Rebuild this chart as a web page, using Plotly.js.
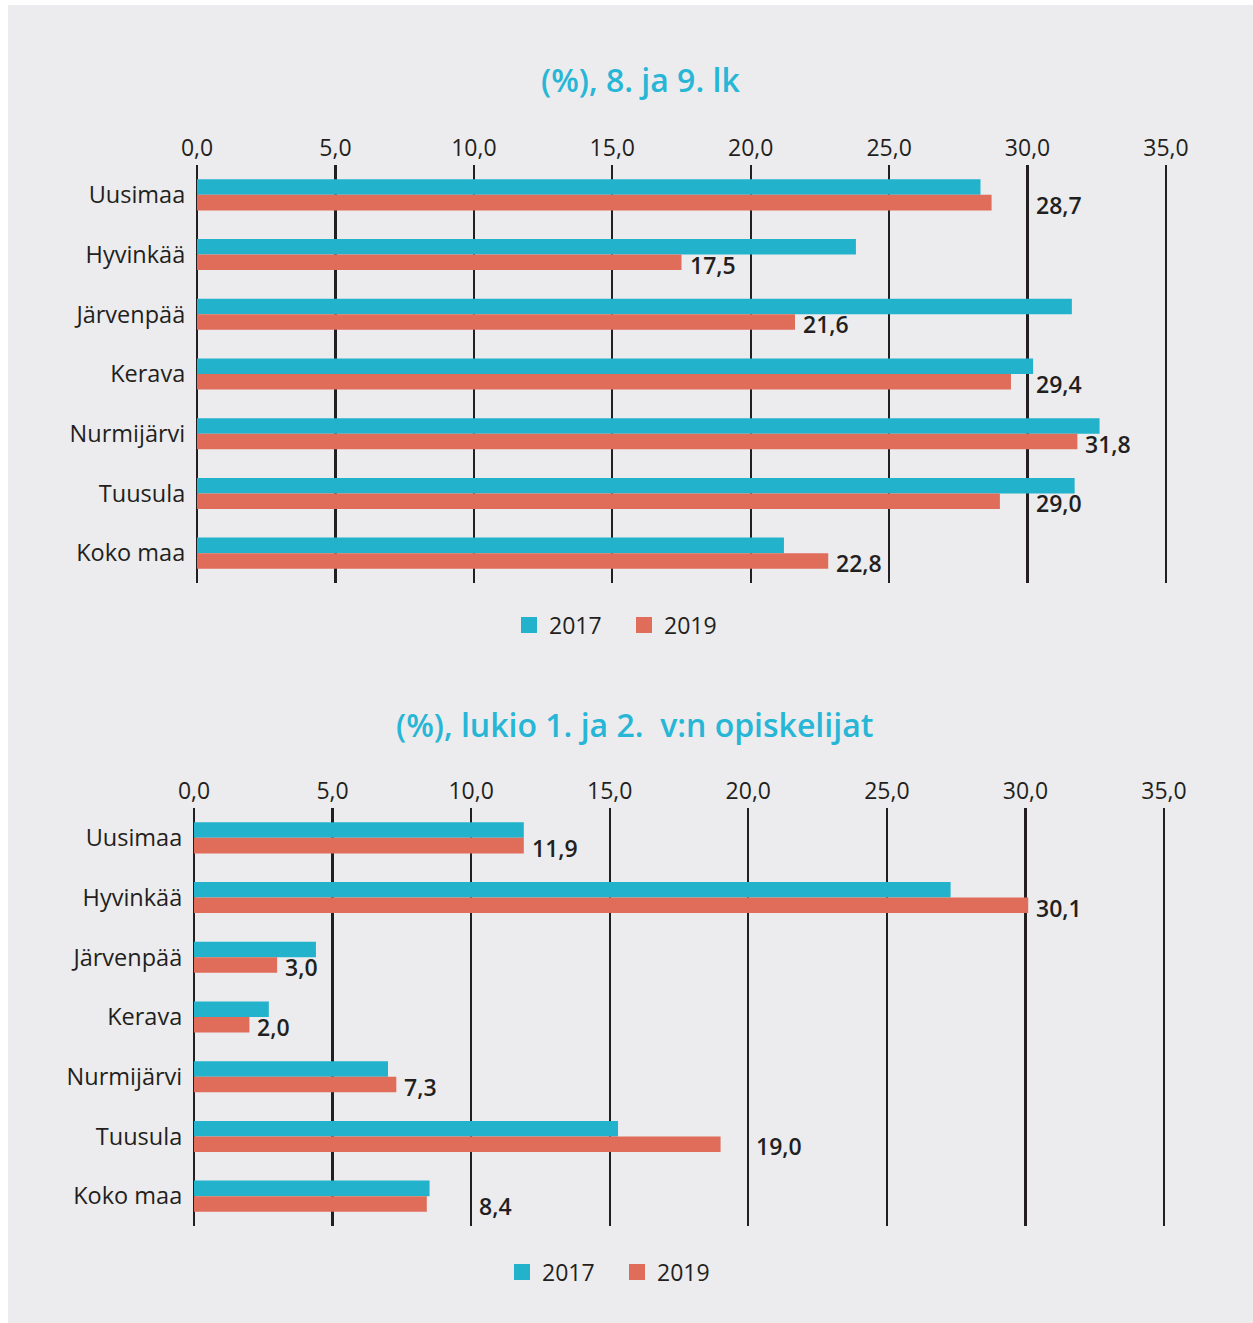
<!DOCTYPE html>
<html><head><meta charset="utf-8">
<script src="https://cdn.plot.ly/plotly-3.0.1.min.js"></script>
<style>html,body{margin:0;padding:0;background:#fff}</style>
</head><body><div id="chart" style="width:1253px;height:1323px"></div>
<script>
const categories = ['Uusimaa','Hyvinkää','Järvenpää','Kerava','Nurmijärvi','Tuusula','Koko maa'];
const seriesNames = ['2017','2019'];
const grade89_2017 = [28.3,23.8,31.6,30.2,32.6,31.7,21.2];
const grade89_2019 = [28.7,17.5,21.6,29.4,31.8,29.0,22.8];
const lukio_2017 = [11.9,27.3,4.4,2.7,7.0,15.3,8.5];
const lukio_2019 = [11.9,30.1,3.0,2.0,7.3,19.0,8.4];
const tickVals = [0,5,10,15,20,25,30,35];
const tickText = ['0,0','5,0','10,0','15,0','20,0','25,0','30,0','35,0'];
const chartTitles = ['(%), 8. ja 9. lk','(%), lukio 1. ja 2.\u00a0 v:n opiskelijat'];

const W = 1253, H = 1323;
const C1 = '#22b2cc', C2 = '#e06c5a', TXT = '#231f20', TITLE = '#27b6d6';
const FONT = '"Open Sans", "Noto Sans", sans-serif';
const fmt = v => v.toFixed(1).replace('.', ',');
const PX = 27.7; // px per unit
const pad = 0.1;

function labelStart(v) {
  for (const g of tickVals) if (g > v && g < v + 1.9) return g;
  return v;
}

const traces = [];
function addChart(v17, v19, xa, ya, leg) {
  traces.push({type:'bar', orientation:'h', y:categories, x:v17, name:seriesNames[0],
    marker:{color:C1}, xaxis:xa, yaxis:ya, showlegend:false, hoverinfo:'x'});
  traces.push({type:'bar', orientation:'h', y:categories, x:v19, name:seriesNames[1],
    marker:{color:C2}, xaxis:xa, yaxis:ya, showlegend:false, hoverinfo:'x'});
  [C1, C2].forEach((c, i) => traces.push({type:'scatter', mode:'markers', x:[null], y:[null],
    name:seriesNames[i], marker:{symbol:'square', size:18, color:c}, xaxis:xa, yaxis:ya,
    legend:leg, showlegend:true}));
}
addChart(grade89_2017, grade89_2019, 'x', 'y', 'legend');
addChart(lukio_2017, lukio_2019, 'x2', 'y2', 'legend2');

function xAxis(left, right, anchor) {
  return {domain:[(left - pad*PX)/W, (right + pad*PX)/W], range:[-pad, 35 + pad], anchor:anchor,
    side:'top', tickvals:tickVals, ticktext:tickText, showgrid:true, gridcolor:TXT, gridwidth:2.2,
    zeroline:false, showline:false, ticks:'', ticklabelstandoff:3,
    tickfont:{family:FONT, size:23, color:TXT}, fixedrange:true, automargin:false};
}
function yAxis(top, bottom, anchor) {
  return {domain:[(H - bottom)/H, (H - top)/H], type:'category', range:[6.5, -0.5], anchor:anchor,
    showgrid:false, zeroline:false, showline:false, ticks:'', ticklabelstandoff:8,
    tickfont:{family:FONT, size:23.5, color:TXT}, fixedrange:true, automargin:false};
}

const annotations = [];
function addLabels(vals, xr, yr) {
  vals.forEach((v, i) => annotations.push({xref:xr, yref:yr, x:labelStart(v), y:categories[i],
    text:fmt(v), showarrow:false, xanchor:'left', yanchor:'middle', xshift:6, yshift:-10,
    font:{family:FONT, size:23, color:TXT, weight:600}}));
}
addLabels(grade89_2019, 'x', 'y');
addLabels(lukio_2019, 'x2', 'y2');
annotations.push({xref:'paper', yref:'paper', x:640/W, y:(H-79)/H, text:chartTitles[0], showarrow:false,
  xanchor:'center', yanchor:'middle', font:{family:FONT, size:32, color:TITLE, weight:600}});
annotations.push({xref:'paper', yref:'paper', x:634/W, y:(H-724)/H, text:chartTitles[1], showarrow:false,
  xanchor:'center', yanchor:'middle', font:{family:FONT, size:32, color:TITLE, weight:600}});

const legendBase = {orientation:'h', xanchor:'left', yanchor:'middle', bgcolor:'rgba(0,0,0,0)',
  font:{family:FONT, size:23, color:TXT}, itemclick:false, itemdoubleclick:false,
  entrywidth:70, entrywidthmode:'pixels'};

const layout = {
  width:W, height:H, margin:{l:0, r:0, t:0, b:0},
  paper_bgcolor:'#ffffff', plot_bgcolor:'rgba(0,0,0,0)',
  barmode:'group', bargap:0.48, bargroupgap:0,
  xaxis:xAxis(197, 1166, 'y'), yaxis:yAxis(165, 583, 'x'),
  xaxis2:xAxis(194, 1164, 'y2'), yaxis2:yAxis(808, 1226, 'x2'),
  legend:Object.assign({x:509/W, y:(H-625)/H}, legendBase),
  legend2:Object.assign({x:502/W, y:(H-1272)/H}, legendBase),
  shapes:[{type:'rect', xref:'paper', yref:'paper', x0:8/W, x1:1, y0:0, y1:(H-5)/H,
    fillcolor:'#ececee', line:{width:0}, layer:'below'}],
  annotations:annotations,
  font:{family:FONT, color:TXT}, hovermode:false
};

Plotly.newPlot('chart', traces, layout, {displayModeBar:false, staticPlot:true});
</script></body></html>
